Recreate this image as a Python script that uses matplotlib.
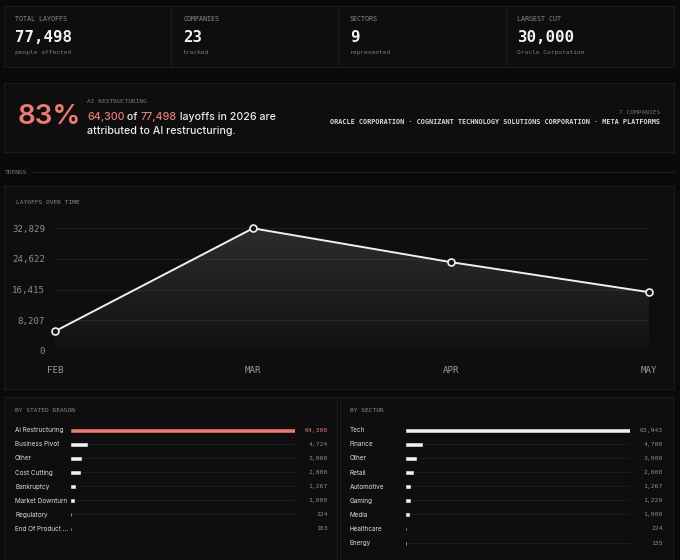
import numpy as np
import matplotlib
matplotlib.use("Agg")
import matplotlib.pyplot as plt
from matplotlib.patches import Rectangle, Polygon
from matplotlib.transforms import blended_transform_factory

# ---- data ----
kpi_titles = ["TOTAL LAYOFFS", "COMPANIES", "SECTORS", "LARGEST CUT"]
kpi_values = ["77,498", "23", "9", "30,000"]
kpi_notes = ["people affected", "tracked", "represented", "Oracle Corporation"]

months = ["FEB", "MAR", "APR", "MAY"]
layoffs = [5220, 32829, 23750, 15699]

reasons = ["Ai Restructuring", "Business Pivot", "Other", "Cost Cutting",
           "Bankruptcy", "Market Downturn", "Regulatory", "End Of Product ..."]
reason_vals = [64300, 4724, 3000, 2800, 1267, 1000, 224, 183]

sectors = ["Tech", "Finance", "Other", "Retail", "Automotive", "Gaming",
           "Media", "Healthcare", "Energy"]
sector_vals = [63943, 4700, 3000, 2000, 1267, 1229, 1000, 224, 135]

companies = ["ORACLE CORPORATION", "COGNIZANT TECHNOLOGY SOLUTIONS CORPORATION",
             "META PLATFORMS"]

W, H = 680, 560
BG = "#0a0a0a"
PANEL = "#0e0e0e"
EDGE = "#1c1c1c"
SALMON = "#ec7b72"
MONO = "DejaVu Sans Mono"
SANS = ["Inter", "DejaVu Sans"]


def fx(x):
    return x / W


def fy(y):
    return 1 - y / H


def fig_axes(x0, y0, x1, y1):
    return fig.add_axes([fx(x0), fy(y1), (x1 - x0) / W, (y1 - y0) / H])


fig = plt.figure(figsize=(6.8, 5.6), dpi=100, facecolor=BG)
base = fig.add_axes([0, 0, 1, 1])
base.set_xlim(0, 1)
base.set_ylim(0, 1)
base.axis("off")


def panel(x0, y0, x1, y1):
    base.add_patch(Rectangle((fx(x0), fy(y1)), (x1 - x0) / W, (y1 - y0) / H,
                             facecolor=PANEL, edgecolor=EDGE, lw=0.8))


# ---- KPI row ----
panel(4, 6, 674, 67)
for xd in [171, 338, 506]:
    base.plot([fx(xd), fx(xd)], [fy(6), fy(67)], color=EDGE, lw=0.8)
for i, xs in enumerate([15, 183, 350, 517]):
    base.text(fx(xs), fy(19), kpi_titles[i], family=MONO, fontsize=4.8,
              color="#8a8a8a", va="center")
    base.text(fx(xs), fy(37), kpi_values[i], family=MONO, fontsize=11.3,
              weight="bold", color="#f2f2f2", va="center")
    base.text(fx(xs), fy(52.5), kpi_notes[i], family=MONO, fontsize=4.5,
              color="#7a7a7a", va="center")

# ---- AI banner ----
panel(4, 83, 674, 152)
base.text(fx(18), fy(117), "83%", family=SANS, fontsize=20, weight="semibold",
          color=SALMON, va="center")
base.text(fx(87), fy(101.5), "AI RESTRUCTURING", family=MONO, fontsize=4.5,
          color="#7a7a7a", va="center")
t = base.text(fx(87), fy(116.5), "64,300", family=SANS, fontsize=7.7,
              weight="medium", color=SALMON, va="center")
for piece, col in [(" of ", "#ececec"), ("77,498", SALMON),
                   (" layoffs in 2026 are", "#ececec")]:
    t = base.annotate(piece, xy=(1, 0), xycoords=t, va="bottom",
                      family=SANS, fontsize=7.7, weight="medium", color=col)
base.text(fx(87), fy(130.5), "attributed to AI restructuring.", family=SANS,
          fontsize=7.7, weight="medium", color="#ececec", va="center")
base.text(fx(660), fy(112), "7 COMPANIES", family=MONO, fontsize=4.5,
          color="#6e6e6e", va="center", ha="right")
base.text(fx(660), fy(122.5), " \u00b7 ".join(companies), family=MONO,
          fontsize=4.95, weight="bold", color="#d8d8d8", va="center", ha="right")

# ---- trends header ----
base.text(fx(5), fy(172), "TRENDS", family=MONO, fontsize=4.5,
          color="#7a7a7a", va="center")
base.plot([fx(33), fx(674)], [fy(172), fy(172)], color="#1e1e1e", lw=0.8)

# ---- line chart ----
panel(4, 186, 674, 389)
base.text(fx(16), fy(203), "LAYOFFS OVER TIME", family=MONO, fontsize=4.5,
          color="#8a8a8a", va="center")

ax = fig_axes(55, 228.3, 649, 350.7)
ax.set_facecolor("none")
x = np.arange(len(months))
top = max(layoffs)
ax.set_xlim(0, len(months) - 1)
ax.set_ylim(0, top)
ticks = [top * k / 4 for k in range(5)]
ax.set_yticks(ticks)
ax.set_yticklabels([f"{int(v + 0.5):,}" for v in ticks])
ax.set_xticks(x)
ax.set_xticklabels(months)
for s in ax.spines.values():
    s.set_visible(False)
ax.tick_params(axis="y", length=0, pad=7, labelsize=6.6, labelcolor="#8c8c8c")
ax.tick_params(axis="x", length=0, pad=11, labelsize=6.6, labelcolor="#9a9a9a")
for lab in ax.get_xticklabels() + ax.get_yticklabels():
    lab.set_family(MONO)

# gradient area under the line
verts = [(0, 0)] + list(zip(x, layoffs)) + [(x[-1], 0)]
poly = Polygon(verts, closed=True, facecolor="none", edgecolor="none")
ax.add_patch(poly)
grad = np.linspace(0, 1, 256).reshape(-1, 1)
cmap = matplotlib.colors.LinearSegmentedColormap.from_list(
    "g", ["#121212", "#2c2c2c"])
img = ax.imshow(grad, extent=[0, x[-1], 0, top], origin="lower",
                aspect="auto", cmap=cmap, zorder=1)
img.set_clip_path(poly)

for v in ticks:
    ax.axhline(v, color="#ffffff", alpha=0.07, lw=0.8, zorder=2)
ax.plot(x, layoffs, color="#f0f0f0", lw=1.4, zorder=3, clip_on=False)
ax.plot(x, layoffs, "o", ms=5, mfc="#141414", mec="#f0f0f0", mew=1.2,
        zorder=4, clip_on=False)


# ---- bar lists ----
def bar_list(x0, x1, lab_x, val_x, names, vals, title, title_x, first_col):
    n = len(names)
    y_first, step = 430.3, 14.1
    axb = fig_axes(x0, y_first - step / 2, x1, y_first + step * (n - 0.5))
    axb.set_facecolor("none")
    axb.axis("off")
    axb.set_xlim(0, max(vals))
    axb.set_ylim(n - 0.5, -0.5)
    rows = np.arange(n)
    axb.barh(rows, [max(vals)] * n, height=0.07, color="#1c1c1c", zorder=1)
    cols = [first_col] + ["#f2f2f2"] * (n - 1)
    axb.barh(rows, vals, height=0.21, color=cols, edgecolor=cols, lw=0.4,
             zorder=2)
    tr = blended_transform_factory(fig.transFigure, axb.transData)
    for i in range(n):
        fig.text(fx(lab_x), i, names[i], transform=tr, family=SANS,
                 fontsize=4.6, color="#dcdcdc", va="center")
        vcol = first_col if (i == 0 and first_col != "#f2f2f2") else "#8c8c8c"
        fig.text(fx(val_x), i, f"{vals[i]:,}", transform=tr, family=MONO,
                 fontsize=4.6, color=vcol, va="center", ha="right")
    base.text(fx(title_x), fy(411), title, family=MONO, fontsize=4.5,
              color="#8a8a8a", va="center")


panel(4, 397, 337, 575)
panel(340, 397, 673, 575)
bar_list(70.7, 295, 15, 327.7, reasons, reason_vals, "BY STATED REASON", 15, SALMON)
bar_list(405.7, 630, 350, 662.7, sectors, sector_vals, "BY SECTOR", 350, "#f2f2f2")

fig.savefig("out.png", dpi=100, facecolor=BG)
